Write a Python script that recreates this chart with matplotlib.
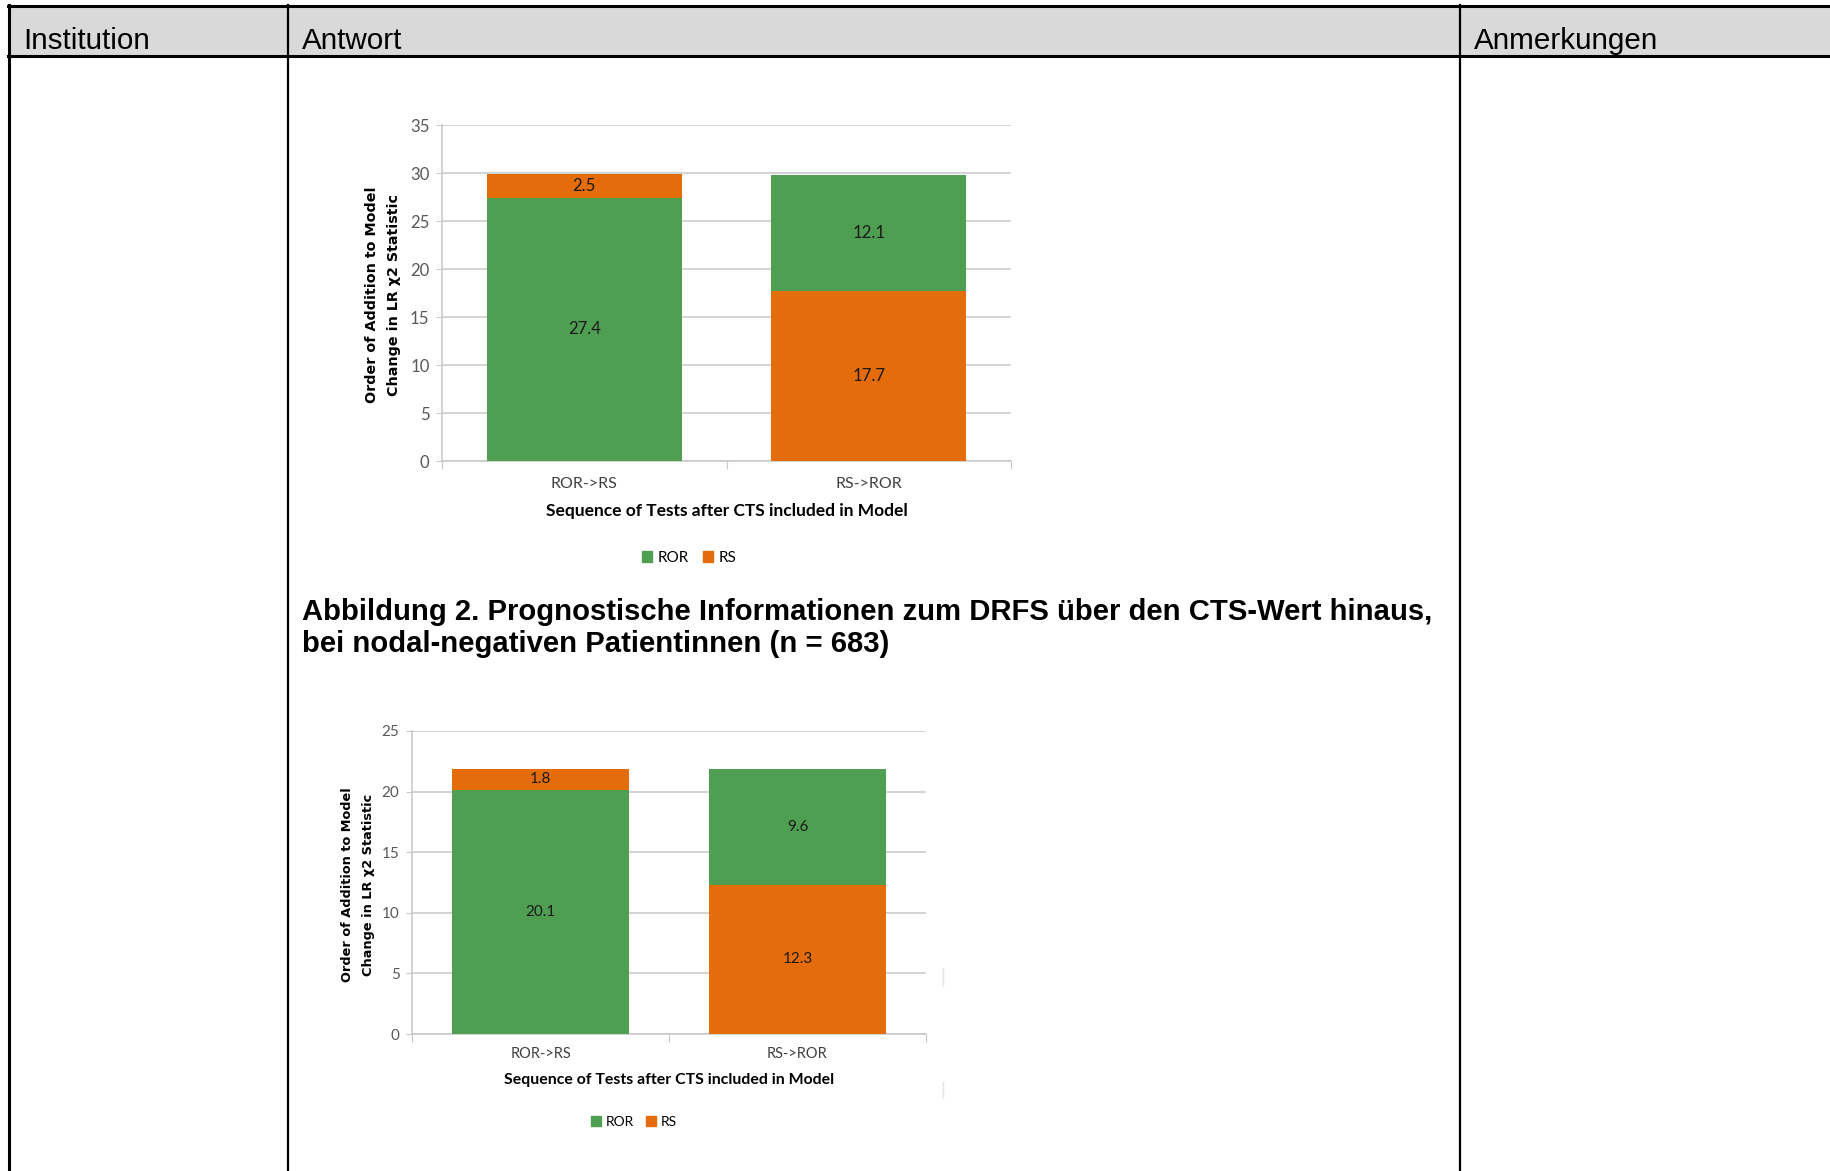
import matplotlib
matplotlib.use("Agg")
import matplotlib.pyplot as plt
from matplotlib.lines import Line2D
from matplotlib.patches import Patch, Rectangle

# data
categories = ["ROR->RS", "RS->ROR"]
# chart 1 (all patients)
c1_ror = [27.4, 12.1]
c1_rs = [2.5, 17.7]
# chart 2 (nodal-negative, n = 683)
c2_ror = [20.1, 9.6]
c2_rs = [1.8, 12.3]
# stacking order per bar: True -> ROR at the bottom
ror_first = [True, False]

header_labels = ["Institution", "Antwort", "Anmerkungen"]
caption = ("Abbildung 2. Prognostische Informationen zum DRFS über den CTS-Wert hinaus,\n"
           "bei nodal-negativen Patientinnen (n = 683)")
ylabel = "Order of Addition to Model\nChange in LR \u03c72 Statistic"
xlabel = "Sequence of Tests after CTS included in Model"

W, H = 1831, 1171
green = "#4f9f52"
orange = "#e46c0a"
grid_c = "#c8c8c8"
tick_c = "#595959"
chart_font = "Lato"

fig = plt.figure(figsize=(W / 100, H / 100), dpi=100)


def fx(x):
    return x / W


def fy(y):
    return 1 - y / H


def hline(x0, x1, y, lw=1.6, color="black"):
    fig.add_artist(Line2D([fx(x0), fx(x1)], [fy(y), fy(y)], color=color, lw=lw,
                          transform=fig.transFigure))


def vline(x, y0, y1, lw=1.6, color="black"):
    fig.add_artist(Line2D([fx(x), fx(x)], [fy(y0), fy(y1)], color=color, lw=lw,
                          transform=fig.transFigure))


# table header
fig.add_artist(Rectangle((fx(9), fy(56)), fx(W) - fx(9), fy(6) - fy(56),
                         facecolor="#d9d9d9", edgecolor="none", transform=fig.transFigure))
hline(8, W, 6, lw=2.2)
hline(8, W, 56, lw=2.2)
vline(9, 5, H, lw=2.2)
vline(288, 5, H)
vline(1460, 5, H)
for x, lab in zip([23, 302, 1474], header_labels):
    fig.text(fx(x), fy(41), lab, fontsize=21.3, family="Liberation Sans", va="center", ha="left")

fig.text(fx(302), fy(628), caption, fontsize=21.1, family="Liberation Sans", weight="bold",
         va="center", ha="left", linespacing=1.2)


def stacked_chart(box, ror, rs, ymax, ylab_x, xl_y, cat_y, leg_xy, k):
    left, top, right, bottom = box
    ax = fig.add_axes([fx(left), fy(bottom), fx(right) - fx(left), fy(top) - fy(bottom)])
    x = list(range(len(categories)))
    width = 0.686
    for i in x:
        if ror_first[i]:
            ax.bar(i, ror[i], width, color=green, zorder=3)
            ax.bar(i, rs[i], width, bottom=ror[i], color=orange, zorder=3)
            segs = [(ror[i] / 2, ror[i]), (ror[i] + rs[i] / 2, rs[i])]
        else:
            ax.bar(i, rs[i], width, color=orange, zorder=3)
            ax.bar(i, ror[i], width, bottom=rs[i], color=green, zorder=3)
            segs = [(rs[i] / 2, rs[i]), (rs[i] + ror[i] / 2, ror[i])]
        for yc, v in segs:
            ax.text(i, yc, f"{v:.1f}", ha="center", va="center", fontsize=11 * k,
                    family=chart_font, color="#1a1a1a", zorder=4)
    ax.set_xlim(-0.5, len(categories) - 0.5)
    ax.set_ylim(0, ymax)
    ax.set_yticks(range(0, ymax + 1, 5))
    ax.yaxis.grid(True, color=grid_c, lw=1.1, zorder=0)
    ax.set_axisbelow(True)
    for s in ["top", "right"]:
        ax.spines[s].set_visible(False)
    ax.spines["left"].set_color(grid_c)
    ax.spines["bottom"].set_color(grid_c)
    ax.spines["left"].set_linewidth(1.1)
    ax.spines["bottom"].set_linewidth(1.1)
    ax.tick_params(axis="y", length=4, color=grid_c, labelsize=11 * k, labelcolor=tick_c, pad=5)
    for t in ax.get_yticklabels():
        t.set_family(chart_font)
    # category boundary ticks on x
    ax.set_xticks([-0.5, 0.5, 1.5])
    ax.set_xticklabels([])
    ax.tick_params(axis="x", length=6, color=grid_c)
    for i, c in enumerate(categories):
        fig.text(fx(left + (right - left) * (i + 0.5) / len(categories)), fy(cat_y), c,
                 ha="center", va="center", fontsize=10.5 * k, family=chart_font, color="#404040")
    fig.text(fx((left + right) / 2), fy(xl_y), xlabel, ha="center", va="center",
             fontsize=11.4 * k, family=chart_font, weight="bold", color="black")
    fig.text(fx(ylab_x), fy((top + bottom) / 2 + 2), ylabel, ha="center", va="center",
             rotation=90, fontsize=9.3 * k, family="DejaVu Sans", weight="bold", linespacing=1.8)
    handles = [Patch(color=green), Patch(color=orange)]
    fig.legend(handles, ["ROR", "RS"], loc="center", bbox_to_anchor=(fx(leg_xy[0]), fy(leg_xy[1])),
               ncol=2, frameon=False, handlelength=0.7, handleheight=0.7, handletextpad=0.35,
               columnspacing=0.9, prop={"family": chart_font, "size": 10 * k})
    return ax


stacked_chart((442, 125, 1011, 461), c1_ror, c1_rs, 35, 383, 511, 484, (689, 558), 1.1)
stacked_chart((412, 731, 926, 1034), c2_ror, c2_rs, 25, 358, 1080, 1054, (634, 1122), 1.0)

# faint remnants of the pasted chart image frame
vline(943, 968, 986, lw=1.0, color="#e4e4e4")
vline(943, 1082, 1098, lw=1.0, color="#e4e4e4")

fig.savefig("out.png", dpi=100)
